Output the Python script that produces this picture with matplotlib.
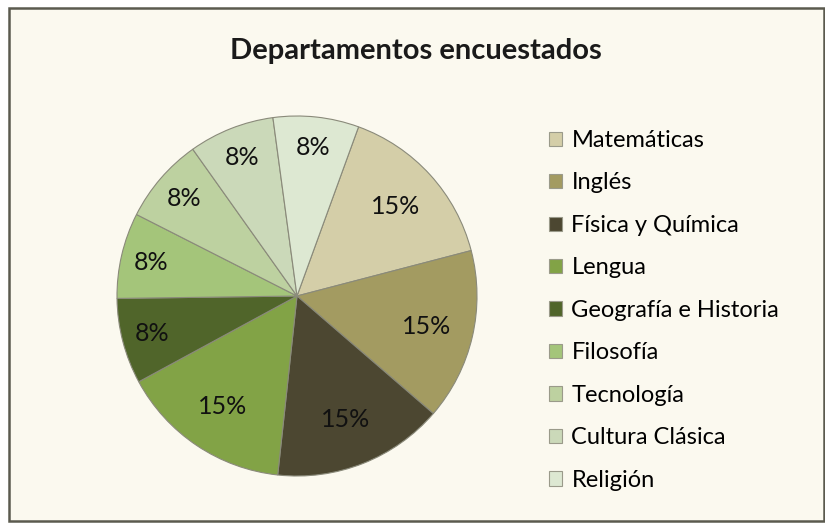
import matplotlib.pyplot as plt
from matplotlib.patches import Rectangle
import numpy as np

departamentos = ["Matemáticas", "Inglés", "Física y Química", "Lengua",
                 "Geografía e Historia", "Filosofía", "Tecnología",
                 "Cultura Clásica", "Religión"]
encuestados = [2, 2, 2, 2, 1, 1, 1, 1, 1]
colores = ["#D4CEA8", "#A39B61", "#4C4731", "#82A346", "#50652A",
           "#A4C57A", "#BDD1A0", "#CBD9B9", "#DDE8D2"]

plt.rcParams['font.family'] = ['Lato', 'DejaVu Sans']

W, H = 825, 523
fig = plt.figure(figsize=(W / 100, H / 100), dpi=100, facecolor="white")

# marco del grafico
fig.patches.append(Rectangle((9 / W, 1 - 521 / H), 815 / W, 513 / H,
                             transform=fig.transFigure, facecolor="#FBF9EF",
                             edgecolor="#5B5A4E", linewidth=1.8, zorder=-10))

fig.text(416 / W, 1 - 51 / H, "Departamentos encuestados", ha="center",
         va="center", fontsize=21, fontweight="bold", color="#1A1A1A")

cx, cy, r = 297, 296, 180
ax = fig.add_axes([(cx - r) / W, (H - cy - r) / H, 2 * r / W, 2 * r / H])
ax.set_facecolor("none")
ax.set_zorder(5)

wedges, textos, pcts = ax.pie(encuestados, colors=colores, startangle=70,
                              counterclock=False, autopct="%1.0f%%",
                              pctdistance=0.78,
                              wedgeprops=dict(edgecolor="#8A8A7A", linewidth=0.8),
                              textprops=dict(fontsize=18, color="#111111"))

total = sum(encuestados)
for w, t, v in zip(wedges, pcts, encuestados):
    ang = np.deg2rad((w.theta1 + w.theta2) / 2)
    d = 0.74 if v / total > 0.1 else 0.83
    t.set_position((d * np.cos(ang), d * np.sin(ang)))

ax.set_xlim(-1, 1)
ax.set_ylim(-1, 1)
ax.set_aspect("equal")

leg = ax.legend(wedges, departamentos, loc="upper left",
                bbox_to_anchor=(549 / W, 1 - 130 / H),
                bbox_transform=fig.transFigure, frameon=False,
                fontsize=17, handlelength=0.55, handleheight=0.55,
                handletextpad=0.4, labelspacing=0.91, borderaxespad=0,
                borderpad=0)
for h in leg.legend_handles:
    h.set_edgecolor("#9A9A8A")

fig.savefig("out.png", dpi=100, facecolor="white")
